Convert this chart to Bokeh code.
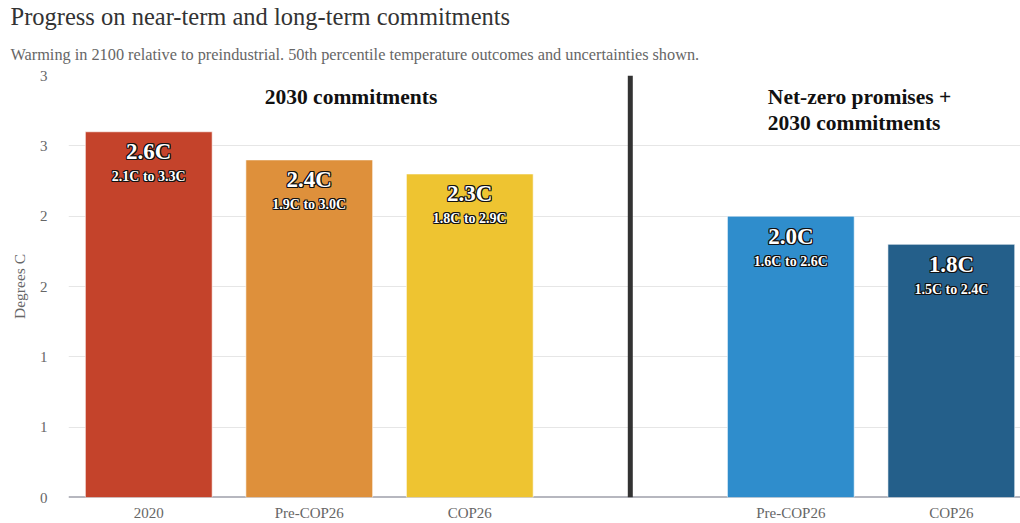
from bokeh.plotting import figure
from bokeh.models import Range1d, FixedTicker, CustomJSTickFormatter, Span, Title, ColumnDataSource
from bokeh.core.properties import value
from bokeh.embed import file_html
from bokeh.resources import INLINE

title_text = "Progress on near-term and long-term commitments"
subtitle_text = "Warming in 2100 relative to preindustrial. 50th percentile temperature outcomes and uncertainties shown."
y_label = "Degrees C"
categories = ["2020", "Pre-COP26", "COP26", "Pre-COP26", "COP26"]
positions = [0, 1, 2, 4, 5]
medians = [2.6, 2.4, 2.3, 2.0, 1.8]
lows = [2.1, 1.9, 1.8, 1.6, 1.5]
highs = [3.3, 3.0, 2.9, 2.6, 2.4]
colors = ["#C4432B", "#DE903B", "#EEC431", "#2F8DCC", "#245F8A"]
group_names = ["2030 commitments", "Net-zero promises +\n2030 commitments"]
group_x = [1.26, 3.857]
group_align = ["center", "left"]
divider_x = 3
y_ticks = [0, 0.5, 1, 1.5, 2, 2.5, 3]

FONT = "Liberation Serif"

src = ColumnDataSource(dict(
    x=positions, top=medians, color=colors,
    main=[f"{m:.1f}C" for m in medians],
    rng=[f"{l:.1f}C to {h:.1f}C" for l, h in zip(lows, highs)],
))

p = figure(width=1020, height=523, output_backend="svg", toolbar_location=None,
           x_range=Range1d(-0.5, 5.431), y_range=Range1d(0, 3.0),
           min_border_left=68, min_border_right=0, min_border_top=0, min_border_bottom=0)
p.outline_line_color = None
p.background_fill_color = "white"
p.border_fill_color = "white"

# titles
sub = Title(text=subtitle_text, align="left", offset=-58, text_font=FONT,
            text_font_size="16.3px", text_color="#666666", text_font_style="normal", standoff=24)
p.add_layout(sub, "above")
main = Title(text=title_text, align="left", offset=-58, text_font=FONT,
             text_font_size="24.5px", text_color="#333333", text_font_style="normal", standoff=1)
p.add_layout(main, "above")

# baseline under bars
p.add_layout(Span(location=0, dimension="width", line_color="#6e7080", line_width=2, level="underlay"))

p.vbar(x="x", top="top", width=0.79, bottom=0, fill_color="color", line_color="#ffffff",
       line_alpha=0.6, line_width=1, source=src)

# labels with dark halo
halo = [(-1, -1), (1, -1), (-1, 1), (1, 1), (0, -1), (0, 1), (-1, 0), (1, 0)]
for dx, dy in halo:
    p.text(x="x", y="top", text="main", source=src, text_align="center", text_baseline="middle",
           x_offset=dx, y_offset=20 + dy, text_font=value(FONT), text_font_size="23px",
           text_font_style="bold", text_color="#111111")
    p.text(x="x", y="top", text="rng", source=src, text_align="center", text_baseline="middle",
           x_offset=dx, y_offset=45 + dy, text_font=value(FONT), text_font_size="14px",
           text_font_style="bold", text_color="#111111")
p.text(x="x", y="top", text="main", source=src, text_align="center", text_baseline="middle",
       y_offset=20, text_font=value(FONT), text_font_size="23px", text_font_style="bold",
       text_color="white")
p.text(x="x", y="top", text="rng", source=src, text_align="center", text_baseline="middle",
       y_offset=45, text_font=value(FONT), text_font_size="14px", text_font_style="bold",
       text_color="white")

# divider
p.add_layout(Span(location=divider_x, dimension="height", line_color="#333333", line_width=5))

# group headings
for name, gx, al in zip(group_names, group_x, group_align):
    p.text(x=[gx], y=[2.93], text=[name], text_align=al, text_baseline="top",
           text_font=value(FONT), text_font_size="21.5px", text_font_style="bold",
           text_color="#111111", text_line_height=1.05)

# axes
p.xaxis.ticker = FixedTicker(ticks=positions)
p.xaxis.major_label_overrides = {pos: c for pos, c in zip(positions, categories)}
p.xaxis.axis_line_color = None
p.xaxis.major_tick_line_color = None
p.xaxis.minor_tick_line_color = None
p.xaxis.major_tick_out = 0
p.xaxis.major_tick_in = 0
p.xaxis.major_label_text_font = FONT
p.xaxis.major_label_text_font_size = "15px"
p.xaxis.major_label_text_color = "#666666"
p.xaxis.major_label_standoff = 7

p.yaxis.ticker = FixedTicker(ticks=y_ticks)
p.yaxis.formatter = CustomJSTickFormatter(code="return Math.round(tick).toString();")
p.yaxis.axis_line_color = None
p.yaxis.major_tick_line_color = None
p.yaxis.minor_tick_line_color = None
p.yaxis.major_tick_out = 0
p.yaxis.major_tick_in = 0
p.yaxis.major_label_text_font = FONT
p.yaxis.major_label_text_font_size = "15px"
p.yaxis.major_label_text_color = "#666666"
p.yaxis.major_label_standoff = 21
p.yaxis.axis_label = y_label
p.yaxis.axis_label_text_font = FONT
p.yaxis.axis_label_text_font_size = "15.5px"
p.yaxis.axis_label_text_font_style = "normal"
p.yaxis.axis_label_text_color = "#666666"
p.yaxis.axis_label_standoff = 9

p.xgrid.grid_line_color = None
p.ygrid.grid_line_color = "#e6e6e6"
p.ygrid.grid_line_width = 1

open("out.html", "w").write(file_html(p, INLINE))
